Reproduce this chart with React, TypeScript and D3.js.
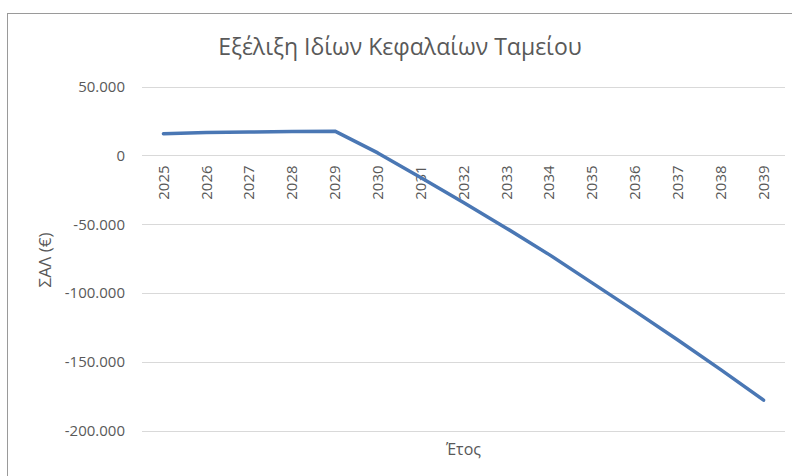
import React, { useRef, useEffect } from "react";
import * as d3 from "d3";

const years = [
  "2025", "2026", "2027", "2028", "2029", "2030", "2031", "2032",
  "2033", "2034", "2035", "2036", "2037", "2038", "2039",
];
const equity = [
  15700, 16700, 17000, 17300, 17600, 1800, -16000, -34200,
  -52800, -72000, -92500, -113000, -134000, -155500, -177600,
];
const yTicks = [50000, 0, -50000, -100000, -150000, -200000];

const W = 792;
const H = 476;
const font = "'Open Sans', 'Noto Sans', sans-serif";

const App = () => {
  const svgRef = useRef<SVGSVGElement>(null);

  useEffect(() => {
    const svg = d3.select(svgRef.current);
    svg.selectAll("*").remove();

    const left = 142;
    const right = 785;
    const x = d3.scaleBand().domain(years).range([left, right]).padding(0);
    const y = d3.scaleLinear().domain([-200000, 50000]).range([431, 86.5]);
    const cx = (d: string) => (x(d) as number) + x.bandwidth() / 2;
    const fmt = (v: number) => d3.format(",")(v).replace(/,/g, ".").replace("−", "-");

    // chart frame
    svg.append("rect")
      .attr("x", 7.5).attr("y", 13.5)
      .attr("width", W).attr("height", H)
      .attr("fill", "#fff").attr("stroke", "#9a9a9a");

    svg.append("text")
      .attr("x", 400).attr("y", 55)
      .attr("text-anchor", "middle")
      .attr("font-family", font).attr("font-size", 23)
      .attr("fill", "#595959")
      .text("Εξέλιξη Ιδίων Κεφαλαίων Ταμείου");

    // gridlines + y labels
    const gy = svg.append("g");
    gy.selectAll("line").data(yTicks).join("line")
      .attr("x1", left).attr("x2", right)
      .attr("y1", (d) => Math.round(y(d)) + 0.5)
      .attr("y2", (d) => Math.round(y(d)) + 0.5)
      .attr("stroke", "#d9d9d9");
    gy.selectAll("text").data(yTicks).join("text")
      .attr("x", 125).attr("y", (d) => y(d))
      .attr("dy", "0.35em")
      .attr("text-anchor", "end")
      .attr("font-family", font).attr("font-size", 15)
      .attr("fill", "#595959")
      .text((d) => fmt(d));

    // category labels at zero line
    svg.append("g").selectAll("text").data(years).join("text")
      .attr("transform", (d) => `translate(${cx(d)},${y(0) + 10}) rotate(-90)`)
      .attr("dy", "0.35em")
      .attr("text-anchor", "end")
      .attr("font-family", font).attr("font-size", 15)
      .attr("fill", "#595959")
      .text((d) => d);

    const line = d3.line<number>()
      .x((_, i) => cx(years[i]))
      .y((d) => y(d));
    svg.append("path")
      .datum(equity)
      .attr("d", line)
      .attr("fill", "none")
      .attr("stroke", "#4a77b4")
      .attr("stroke-width", 3.5)
      .attr("stroke-linecap", "round")
      .attr("stroke-linejoin", "round");

    svg.append("text")
      .attr("transform", "translate(45,260) rotate(-90)")
      .attr("dy", "0.35em")
      .attr("text-anchor", "middle")
      .attr("font-family", font).attr("font-size", 17)
      .attr("fill", "#595959")
      .text("ΣΑΛ (€)");

    svg.append("text")
      .attr("x", (left + right) / 2).attr("y", 455)
      .attr("text-anchor", "middle")
      .attr("font-family", font).attr("font-size", 16)
      .attr("fill", "#595959")
      .text("Έτος");
  }, []);

  return (
    <div style={{ position: "fixed", left: 0, top: 0, width: W, height: H, background: "#fff" }}>
      <svg ref={svgRef} width={W} height={H}></svg>
    </div>
  );
};

export default App;
